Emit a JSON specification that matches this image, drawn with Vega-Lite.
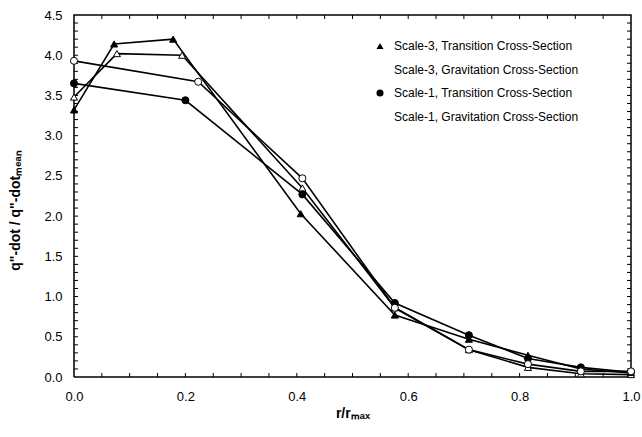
{
  "$schema": "https://vega.github.io/schema/vega-lite/v6.json",
  "width": 557,
  "height": 362,
  "autosize": {"type": "none"},
  "padding": {"left": 74, "top": 15, "right": 11, "bottom": 60},
  "config": {
    "font": "Liberation Sans",
    "view": {"stroke": null},
    "axis": {
      "grid": false,
      "labelFontSize": 13,
      "labelColor": "black",
      "titleFontSize": 14,
      "titleFontWeight": "bold",
      "titleColor": "black",
      "labelOverlap": false,
      "labelFlush": false,
      "domain": false,
      "ticks": false
    },
    "legend": {
      "labelFontSize": 12,
      "labelColor": "black",
      "labelLimit": 0
    }
  },
  "datasets": {
    "curves": [
      {"series": "Scale-3, Transition Cross-Section", "r": 0.0, "q": 3.32},
      {"series": "Scale-3, Transition Cross-Section", "r": 0.072, "q": 4.14},
      {"series": "Scale-3, Transition Cross-Section", "r": 0.178, "q": 4.2},
      {"series": "Scale-3, Transition Cross-Section", "r": 0.407, "q": 2.03},
      {"series": "Scale-3, Transition Cross-Section", "r": 0.576, "q": 0.77},
      {"series": "Scale-3, Transition Cross-Section", "r": 0.709, "q": 0.47},
      {"series": "Scale-3, Transition Cross-Section", "r": 0.815, "q": 0.27},
      {"series": "Scale-3, Transition Cross-Section", "r": 0.91, "q": 0.1},
      {"series": "Scale-3, Transition Cross-Section", "r": 1.0, "q": 0.05},
      {"series": "Scale-3, Gravitation Cross-Section", "r": 0.0, "q": 3.48},
      {"series": "Scale-3, Gravitation Cross-Section", "r": 0.077, "q": 4.02},
      {"series": "Scale-3, Gravitation Cross-Section", "r": 0.194, "q": 4.0},
      {"series": "Scale-3, Gravitation Cross-Section", "r": 0.41, "q": 2.35},
      {"series": "Scale-3, Gravitation Cross-Section", "r": 0.576, "q": 0.86},
      {"series": "Scale-3, Gravitation Cross-Section", "r": 0.709, "q": 0.34},
      {"series": "Scale-3, Gravitation Cross-Section", "r": 0.815, "q": 0.12},
      {"series": "Scale-3, Gravitation Cross-Section", "r": 0.91, "q": 0.04},
      {"series": "Scale-3, Gravitation Cross-Section", "r": 1.0, "q": 0.03},
      {"series": "Scale-1, Transition Cross-Section", "r": 0.0, "q": 3.65},
      {"series": "Scale-1, Transition Cross-Section", "r": 0.2, "q": 3.44},
      {"series": "Scale-1, Transition Cross-Section", "r": 0.41, "q": 2.27},
      {"series": "Scale-1, Transition Cross-Section", "r": 0.576, "q": 0.92},
      {"series": "Scale-1, Transition Cross-Section", "r": 0.709, "q": 0.52},
      {"series": "Scale-1, Transition Cross-Section", "r": 0.815, "q": 0.23},
      {"series": "Scale-1, Transition Cross-Section", "r": 0.91, "q": 0.12},
      {"series": "Scale-1, Transition Cross-Section", "r": 1.0, "q": 0.06},
      {"series": "Scale-1, Gravitation Cross-Section", "r": 0.0, "q": 3.93},
      {"series": "Scale-1, Gravitation Cross-Section", "r": 0.223, "q": 3.67},
      {"series": "Scale-1, Gravitation Cross-Section", "r": 0.41, "q": 2.47},
      {"series": "Scale-1, Gravitation Cross-Section", "r": 0.576, "q": 0.86},
      {"series": "Scale-1, Gravitation Cross-Section", "r": 0.709, "q": 0.34},
      {"series": "Scale-1, Gravitation Cross-Section", "r": 0.815, "q": 0.16},
      {"series": "Scale-1, Gravitation Cross-Section", "r": 0.91, "q": 0.07},
      {"series": "Scale-1, Gravitation Cross-Section", "r": 1.0, "q": 0.07}
    ],
    "rTicks": [
      {"r": 0.05}, {"r": 0.1}, {"r": 0.15}, {"r": 0.2}, {"r": 0.25}, {"r": 0.3}, {"r": 0.35}, {"r": 0.4}, {"r": 0.45}, {"r": 0.5},
      {"r": 0.55}, {"r": 0.6}, {"r": 0.65}, {"r": 0.7}, {"r": 0.75}, {"r": 0.8}, {"r": 0.85}, {"r": 0.9}, {"r": 0.95}
    ],
    "qTicks": [
      {"q": 0.1}, {"q": 0.2}, {"q": 0.3}, {"q": 0.4}, {"q": 0.5}, {"q": 0.6}, {"q": 0.7}, {"q": 0.8}, {"q": 0.9}, {"q": 1.0},
      {"q": 1.1}, {"q": 1.2}, {"q": 1.3}, {"q": 1.4}, {"q": 1.5}, {"q": 1.6}, {"q": 1.7}, {"q": 1.8}, {"q": 1.9}, {"q": 2.0},
      {"q": 2.1}, {"q": 2.2}, {"q": 2.3}, {"q": 2.4}, {"q": 2.5}, {"q": 2.6}, {"q": 2.7}, {"q": 2.8}, {"q": 2.9}, {"q": 3.0},
      {"q": 3.1}, {"q": 3.2}, {"q": 3.3}, {"q": 3.4}, {"q": 3.5}, {"q": 3.6}, {"q": 3.7}, {"q": 3.8}, {"q": 3.9}, {"q": 4.0},
      {"q": 4.1}, {"q": 4.2}, {"q": 4.3}, {"q": 4.4}
    ],
    "frame": [
      {"k": 0, "r": 0, "q": 0},
      {"k": 1, "r": 1, "q": 0},
      {"k": 2, "r": 1, "q": 4.5},
      {"k": 3, "r": 0, "q": 4.5},
      {"k": 4, "r": 0, "q": 0}
    ]
  },
  "layer": [
    {
      "data": {"name": "curves"},
      "mark": {"type": "line", "color": "black", "strokeWidth": 1.6},
      "encoding": {
        "x": {
          "field": "r", "type": "quantitative",
          "scale": {"domain": [0, 1], "nice": false, "zero": false},
          "axis": {
            "title": "r/rₘₐₓ",
            "values": [0, 0.2, 0.4, 0.6, 0.8, 1.0],
            "format": ".1f",
            "labelPadding": 13,
            "titlePadding": 3
          }
        },
        "y": {
          "field": "q", "type": "quantitative",
          "scale": {"domain": [0, 4.5], "nice": false, "zero": false},
          "axis": {
            "title": "q\"-dot / q\"-dotₘₑₐₙ",
            "values": [0, 0.5, 1.0, 1.5, 2.0, 2.5, 3.0, 3.5, 4.0, 4.5],
            "format": ".1f",
            "labelPadding": 12,
            "titleX": -52,
            "titleY": 195
          }
        },
        "detail": {"field": "series"}
      }
    },
    {
      "data": {"name": "frame"},
      "mark": {"type": "line", "color": "black", "strokeWidth": 1.5, "interpolate": "linear"},
      "encoding": {
        "x": {"field": "r", "type": "quantitative"},
        "y": {"field": "q", "type": "quantitative"},
        "order": {"field": "k", "type": "quantitative"}
      }
    },
    {
      "data": {"name": "rTicks"},
      "mark": {"type": "point", "shape": "M0,0L0,-1", "size": 64, "filled": false, "stroke": "black", "strokeWidth": 1, "opacity": 1},
      "encoding": {
        "x": {"field": "r", "type": "quantitative"},
        "y": {"datum": 0, "type": "quantitative"}
      }
    },
    {
      "data": {"name": "rTicks"},
      "mark": {"type": "point", "shape": "M0,0L0,1", "size": 64, "filled": false, "stroke": "black", "strokeWidth": 1, "opacity": 1},
      "encoding": {
        "x": {"field": "r", "type": "quantitative"},
        "y": {"datum": 4.5, "type": "quantitative"}
      }
    },
    {
      "data": {"name": "qTicks"},
      "mark": {"type": "point", "shape": "M0,0L1,0", "size": 64, "filled": false, "stroke": "black", "strokeWidth": 1, "opacity": 1},
      "encoding": {
        "y": {"field": "q", "type": "quantitative"},
        "x": {"datum": 0, "type": "quantitative"}
      }
    },
    {
      "data": {"name": "qTicks"},
      "mark": {"type": "point", "shape": "M0,0L-1,0", "size": 64, "filled": false, "stroke": "black", "strokeWidth": 1, "opacity": 1},
      "encoding": {
        "y": {"field": "q", "type": "quantitative"},
        "x": {"datum": 1, "type": "quantitative"}
      }
    },
    {
      "data": {"name": "curves"},
      "mark": {"type": "point", "filled": true, "stroke": "black", "strokeWidth": 1, "size": 50, "opacity": 1},
      "encoding": {
        "x": {"field": "r", "type": "quantitative"},
        "y": {"field": "q", "type": "quantitative"},
        "shape": {
          "field": "series", "type": "nominal", "title": null,
          "scale": {
            "domain": ["Scale-3, Transition Cross-Section", "Scale-3, Gravitation Cross-Section", "Scale-1, Transition Cross-Section", "Scale-1, Gravitation Cross-Section"],
            "range": ["triangle-up", "triangle-up", "circle", "circle"]
          },
          "legend": {
            "orient": "none",
            "legendX": 300,
            "legendY": 25,
            "padding": 0,
            "symbolSize": 50,
            "symbolStrokeColor": "black",
            "symbolStrokeWidth": 1,
            "labelOffset": 8,
            "rowPadding": 11.5,
            "encode": {
              "symbols": {
                "stroke": {"value": "black"},
                "strokeWidth": {"value": 1}
              }
            }
          }
        },
        "fill": {
          "field": "series", "type": "nominal", "title": null,
          "scale": {
            "domain": ["Scale-3, Transition Cross-Section", "Scale-3, Gravitation Cross-Section", "Scale-1, Transition Cross-Section", "Scale-1, Gravitation Cross-Section"],
            "range": ["black", "white", "black", "white"]
          },
          "legend": null
        }
      }
    }
  ]
}
